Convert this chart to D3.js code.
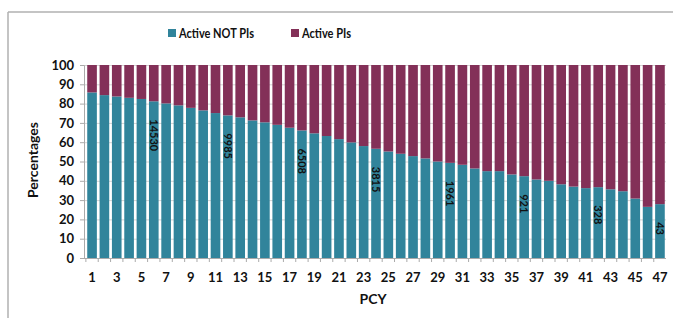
<!DOCTYPE html>
<html>
<head>
<meta charset="utf-8">
<script src="https://cdn.jsdelivr.net/npm/d3@7"></script>
<style>
  body { margin: 0; background: #fff; }
  text { font-family: Lato, "Open Sans", sans-serif; font-weight: bold; }
</style>
</head>
<body>
<div id="chart"></div>
<script>
// data
var pcy = d3.range(1, 48);
var notPIs = [85.8, 84.4, 83.7, 83.0, 82.4, 81.2, 80.1, 79.1, 77.8, 76.5,
              75.1, 73.9, 72.9, 71.3, 70.3, 69.0, 67.5, 66.1, 64.6, 63.2,
              61.6, 59.9, 58.0, 56.6, 55.2, 54.0, 52.8, 51.6, 50.0, 49.3,
              48.3, 46.4, 45.0, 45.0, 43.3, 42.4, 40.7, 40.0, 38.2, 37.0,
              36.2, 36.7, 35.6, 34.6, 30.8, 26.5, 27.9];
var PIs = notPIs.map(function(v) { return 100 - v; });
var countPCY = [6, 12, 18, 24, 30, 36, 42, 47];
var countLabels = ["14530", "9985", "6508", "3815", "1961", "921", "328", "43"];
var yTicks = d3.range(0, 101, 10);
var seriesNames = ["Active NOT PIs", "Active PIs"];
var colors = ["#31849b", "#833058"];

var W = 673, H = 318;
var svg = d3.select("#chart").append("svg")
  .attr("width", W).attr("height", H);

// outer frame (only top and left visible)
svg.append("line").attr("x1", 8).attr("x2", W).attr("y1", 12).attr("y2", 12)
  .attr("stroke", "#b0b0b0").attr("stroke-width", 1.5);
svg.append("line").attr("x1", 8).attr("x2", 8).attr("y1", 12).attr("y2", H)
  .attr("stroke", "#b0b0b0").attr("stroke-width", 1.5);

var x = d3.scaleBand().domain(pcy).range([86, 666]).paddingInner(0.22).paddingOuter(0.1);
var y = d3.scaleLinear().domain([0, 100]).range([258, 65]);

// gridlines
svg.append("g").selectAll("line").data(yTicks).enter().append("line")
  .attr("x1", 84).attr("x2", 666)
  .attr("y1", function(d) { return y(d) + 0.5; })
  .attr("y2", function(d) { return y(d) + 0.5; })
  .attr("stroke", "#d4d4d4");

// stacked bars
var rows = pcy.map(function(p, i) { return {pcy: p, a: notPIs[i], b: PIs[i]}; });
var stack = d3.stack().keys(["a", "b"])(rows);
svg.append("g").selectAll("g").data(stack).enter().append("g")
  .attr("fill", function(d, i) { return colors[i]; })
  .selectAll("rect").data(function(d) { return d; }).enter().append("rect")
    .attr("x", function(d) { return x(d.data.pcy); })
    .attr("width", x.bandwidth())
    .attr("y", function(d) { return y(d[1]); })
    .attr("height", function(d) { return y(d[0]) - y(d[1]); });

// count labels inside teal bars
countPCY.forEach(function(p, i) {
  var cx = x(p) + x.bandwidth() / 2;
  var top = y(notPIs[p - 1]) + 18;
  svg.append("text")
    .attr("transform", "translate(" + (cx - 4) + "," + top + ") rotate(90)")
    .attr("font-size", 11).attr("fill", "#111")
    .text(countLabels[i]);
});

// y axis
var yAxis = svg.append("g").attr("transform", "translate(84,0)")
  .call(d3.axisLeft(y).tickValues(yTicks).tickSize(4).tickPadding(6));
yAxis.select(".domain").attr("stroke", "#aaa");
yAxis.selectAll(".tick line").attr("stroke", "#aaa");
yAxis.selectAll("text").attr("font-size", 13).attr("fill", "#111")
  .style("font-family", "Lato, sans-serif").style("font-weight", "bold");

// x axis
var xAxis = svg.append("g").attr("transform", "translate(0,258)");
xAxis.append("line").attr("x1", 84).attr("x2", 666).attr("y1", 0.5).attr("y2", 0.5)
  .attr("stroke", "#aaa");
var step = x.step();
xAxis.selectAll("line.tk").data(pcy).enter().append("line").attr("class", "tk")
  .attr("x1", function(d) { return x(d) - step * 0.11; })
  .attr("x2", function(d) { return x(d) - step * 0.11; })
  .attr("y1", 0).attr("y2", 4).attr("stroke", "#aaa");
xAxis.selectAll("text").data(pcy.filter(function(d) { return d % 2 === 1; }))
  .enter().append("text")
  .attr("x", function(d) { return x(d) + x.bandwidth() / 2; })
  .attr("y", 24).attr("text-anchor", "middle")
  .attr("font-size", 13).attr("fill", "#111")
  .text(function(d) { return d; });

// axis titles
svg.append("text").attr("x", 373).attr("y", 304).attr("text-anchor", "middle")
  .attr("font-size", 14).attr("fill", "#111").text("PCY");
svg.append("text").attr("transform", "translate(38,160) rotate(-90)")
  .attr("text-anchor", "middle").attr("font-size", 14).attr("fill", "#111")
  .text("Percentages");

// legend
var legX = [168, 291];
var legW = [75, 49];
seriesNames.forEach(function(n, i) {
  svg.append("rect").attr("x", legX[i]).attr("y", 29).attr("width", 8).attr("height", 8)
    .attr("fill", colors[i]);
  svg.append("text").attr("x", legX[i] + 11).attr("y", 38)
    .attr("font-size", 14).attr("fill", "#111")
    .attr("textLength", legW[i]).attr("lengthAdjust", "spacingAndGlyphs")
    .text(n);
});
</script>
</body>
</html>
